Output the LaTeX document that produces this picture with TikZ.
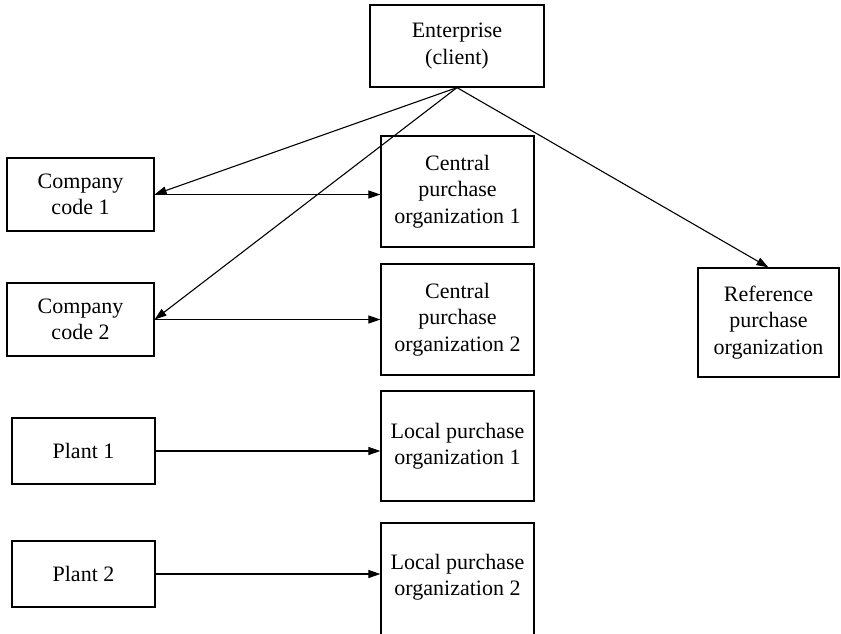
\documentclass[tikz,border=0pt]{standalone}
\usepackage{fontspec}
\setmainfont{Liberation Serif}
\usetikzlibrary{arrows.meta}
\tikzset{
    unit/.style={draw, line width=1.2pt, align=center, inner sep=0pt,
                 font=\fontsize{22}{26.5}\selectfont},
    link/.style={line width=1.1pt, -{Triangle[length=12pt,width=8pt]}}
}

\begin{document}
\begin{tikzpicture}[x=1pt, y=-1pt]
            \useasboundingbox (0,0) rectangle (841,633);
            % top of the structure
            \node[unit, minimum width=174pt, minimum height=82pt] (ent) at (457,46) {Enterprise\\(client)};
            % left column
            \node[unit, minimum width=147pt, minimum height=73pt] (cc1) at (80.5,194.5) {Company\\code 1};
            \node[unit, minimum width=147pt, minimum height=73pt] (cc2) at (80.5,319.5) {Company\\code 2};
            \node[unit, minimum width=143pt, minimum height=66pt] (pl1) at (83.5,451) {Plant 1};
            \node[unit, minimum width=143pt, minimum height=66pt] (pl2) at (83.5,574) {Plant 2};
            % middle column
            \node[unit, minimum width=153pt, minimum height=111pt] (cp1) at (457.5,191.5) {Central\\purchase\\organization 1};
            \node[unit, minimum width=153pt, minimum height=111pt] (cp2) at (457.5,319.5) {Central\\purchase\\organization 2};
            \node[unit, minimum width=153pt, minimum height=110pt] (lp1) at (457.5,446) {Local purchase\\organization 1};
            % runs off the lower edge
            \node[unit, minimum width=153pt, minimum height=124pt] (lp2) at (457.5,585) {};
            \node[font=\fontsize{22}{26.5}\selectfont, align=center] (lp2t) at (457.5,577) {Local purchase\\organization 2};
            % right
            \node[unit, minimum width=141pt, minimum height=109pt] (ref) at (768.5,322.5) {Reference\\purchase\\organization};

            \draw[link] (ent.south) -- (cc1.east);
            \draw[link] (ent.south) -- (cc2.east);
            \draw[link] (ent.south) -- (ref.north);
            \draw[link] (cc1.east) -- (cc1.east -| cp1.west);
            \draw[link] (cc2.east) -- (cc2.east -| cp2.west);
            \draw[link] (pl1.east) -- (pl1.east -| lp1.west);
            \draw[link] (pl2.east) -- (pl2.east -| lp2.west);
        \end{tikzpicture}
\end{document}
